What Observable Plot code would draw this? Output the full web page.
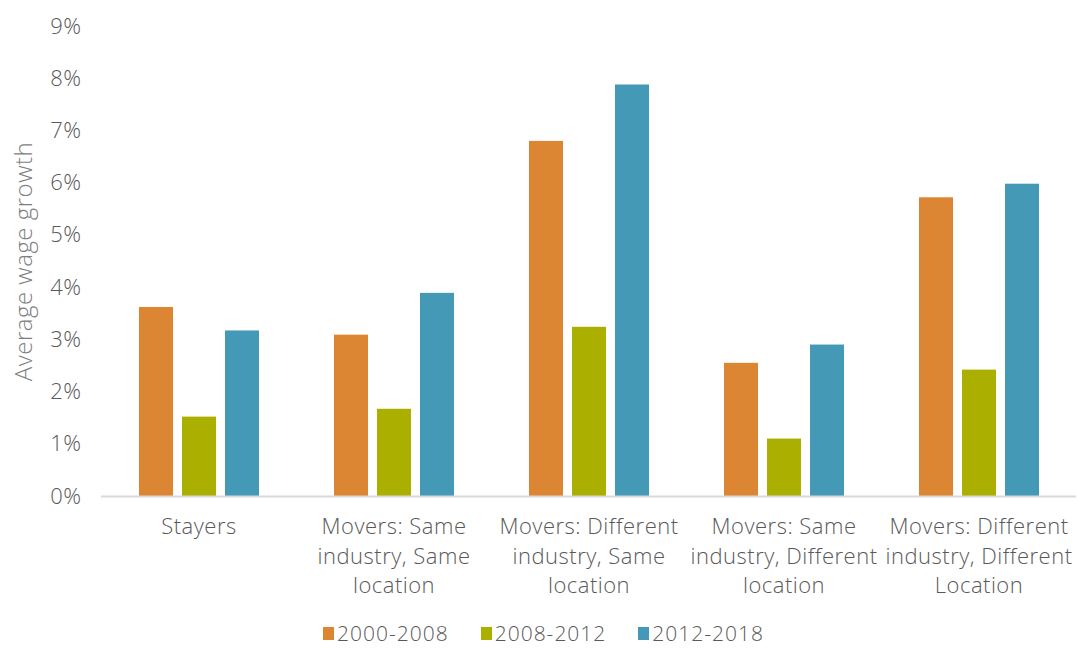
<!DOCTYPE html>
<html>
<head>
<meta charset="utf-8">
<script src="https://cdn.jsdelivr.net/npm/d3@7"></script>
<script src="https://cdn.jsdelivr.net/npm/@observablehq/plot@0.6"></script>
<style>
  body { margin: 0; background: #fff; font-family: "Open Sans", Lato, sans-serif; font-weight: 300; overflow: hidden; }
  svg { display: block; }
  #legend { display: flex; justify-content: center; gap: 32px; font-size: 21px; line-height: 20px; letter-spacing: 1px; color: #595959; margin-top: 11px; padding-left: 10px; }
  #legend .item { display: flex; align-items: center; gap: 3px; }
  #legend .sw { width: 11px; height: 13px; display: inline-block; }
</style>
</head>
<body>
<div id="chart"></div>
<div id="legend"></div>
<script>
const categories = [
  "Stayers",
  "Movers: Same\nindustry, Same\nlocation",
  "Movers: Different\nindustry, Same\nlocation",
  "Movers: Same\nindustry, Different\nlocation",
  "Movers: Different\nindustry, Different\nLocation"
];
const periods = ["2000-2008", "2008-2012", "2012-2018"];
const colors = ["#DC8633", "#AAAF00", "#4499B6"];
const values2000_2008 = [0.0362, 0.0309, 0.0680, 0.0255, 0.0572];
const values2008_2012 = [0.0152, 0.0167, 0.0324, 0.0110, 0.0242];
const values2012_2018 = [0.0317, 0.0389, 0.0788, 0.0290, 0.0598];
const yTicks = [0, 0.01, 0.02, 0.03, 0.04, 0.05, 0.06, 0.07, 0.08, 0.09];
const yLabel = "Average wage growth";

const series = [values2000_2008, values2008_2012, values2012_2018];
const data = [];
categories.forEach((c, i) => {
  periods.forEach((p, j) => data.push({category: c, period: p, value: series[j][i]}));
});

const chart = Plot.plot({
  width: 1077,
  height: 612,
  marginLeft: 101,
  marginRight: 1,
  marginTop: 26,
  marginBottom: 116,
  style: {fontFamily: "'Open Sans', Lato, sans-serif", fontWeight: 300, fontSize: "22px", letterSpacing: "0.5px", color: "#595959", background: "#fff"},
  fx: {domain: categories, padding: 0},
  x: {domain: periods, paddingInner: 0.218, paddingOuter: 0.85},
  y: {domain: [0, 0.09]},
  color: {domain: periods, range: colors},
  marks: [
    Plot.barY(data, {fx: "category", x: "period", y: "value", fill: "period"}),
    Plot.ruleY([0], {stroke: "#d9d9d9", strokeWidth: 2}),
    Plot.axisY({ticks: yTicks, tickFormat: d3.format(".0%"), tickSize: 0, tickPadding: 20,
      label: null, fontSize: 22, fill: "#595959"}),
    Plot.text([yLabel], {text: d => d, frameAnchor: "left", textAnchor: "middle", rotate: -90, dx: -77,
      fontSize: 24, fill: "#7f7f7f", facetAnchor: "left", style: "letter-spacing: 1px"}),
    Plot.axisX({ticks: [], label: null}),
    Plot.axisFx({anchor: "bottom", tickSize: 0, tickPadding: 17, lineHeight: 1.34, label: null, fontSize: 22, fill: "#595959"})
  ]
});
document.getElementById("chart").appendChild(chart);

const legend = document.getElementById("legend");
periods.forEach((p, i) => {
  const item = document.createElement("div");
  item.className = "item";
  const sw = document.createElement("span");
  sw.className = "sw";
  sw.style.background = colors[i];
  const t = document.createElement("span");
  t.textContent = p;
  item.appendChild(sw);
  item.appendChild(t);
  legend.appendChild(item);
});
</script>
</body>
</html>
